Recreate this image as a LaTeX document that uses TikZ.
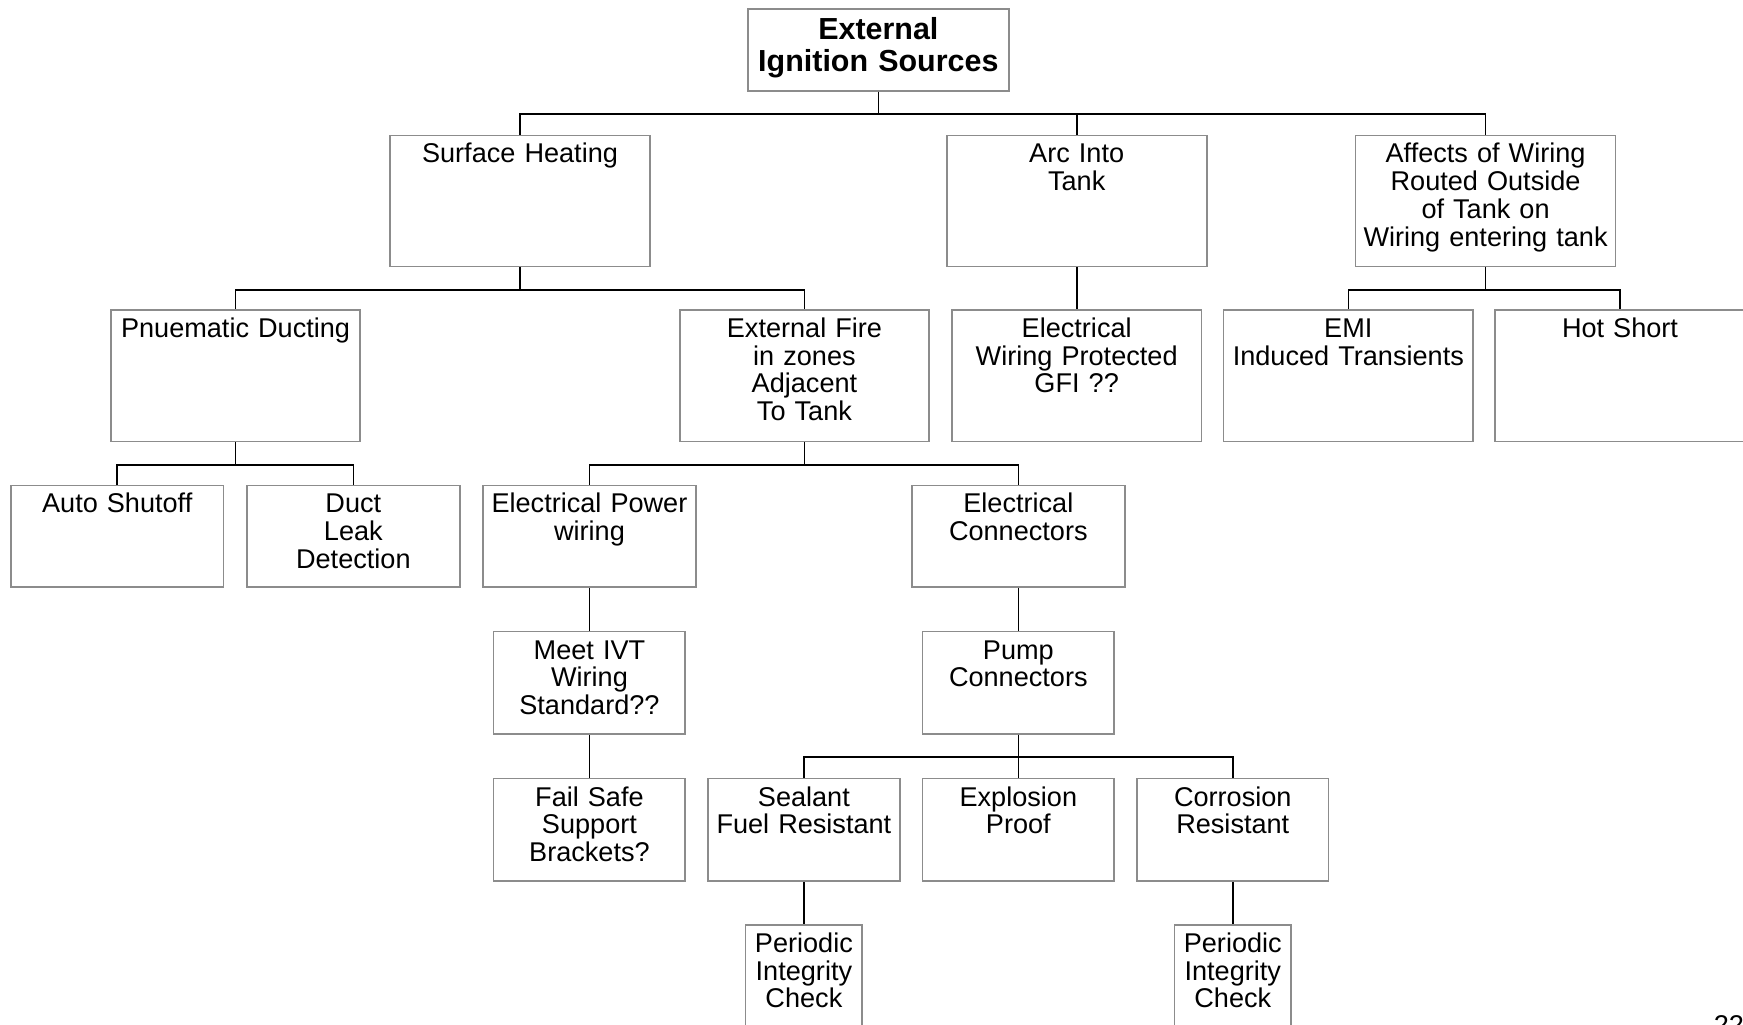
\documentclass[tikz,border=0pt]{standalone}
\usepackage{fontspec}
\setmainfont{Liberation Sans}
\usepackage{xcolor}
\definecolor{boxgray}{HTML}{8C8C8C}

\begin{document}
\begin{tikzpicture}[x=0.5pt, y=-0.5pt,
  box/.style={draw=boxgray, line width=0.75pt, anchor=north, inner sep=0pt,
    align=center, text height=12.4pt, font=\fontsize{12.2}{12.5}\selectfont},
  headbox/.style={box, text width=117.5pt, text height=13.8pt, text depth=22.95pt,
    font=\bfseries\fontsize{13.7}{14.1}\selectfont},
  bigbox/.style={box, text width=117pt, text depth=46.65pt},
  midbox/.style={box, text width=112.25pt, text depth=46.95pt},
  lowbox/.style={box, text width=95.75pt, text depth=33.4pt},
  subbox/.style={box, text width=86.25pt, text depth=33.7pt},
  checkbox/.style={box, text width=52.5pt, text depth=33.6pt},
  wire/.style={line width=0.75pt}]
  \useasboundingbox (0,0) rectangle (1568.7,921.6);

  \node[headbox] (top) at (790.5,7.6) {External\\Ignition Sources};

  \node[bigbox] (sh)  at (468,121.1)  {Surface Heating};
  \node[bigbox] (arc) at (969,121.1)  {Arc Into\\Tank};
  \node[bigbox] (aff) at (1337,121.1) {Affects of Wiring\\Routed Outside\\of Tank on\\Wiring entering tank};

  \node[midbox] (pd)  at (212,278)    {Pnuematic Ducting};
  \node[midbox] (ef)  at (724,278)    {External Fire\\in zones\\Adjacent\\To Tank};
  \node[midbox] (ew)  at (969,278)    {Electrical\\Wiring Protected\\GFI ??};
  \node[midbox] (emi) at (1213.5,278) {EMI\\Induced Transients};
  \node[midbox] (hs)  at (1458,278)   {Hot Short};

  \node[lowbox] (as)  at (105.5,436.1) {Auto Shutoff};
  \node[lowbox] (dld) at (318,436.1)   {Duct\\Leak\\Detection};
  \node[lowbox] (epw) at (530.5,436.1) {Electrical Power\\wiring};
  \node[lowbox] (ec)  at (916.5,436.1) {Electrical\\Connectors};

  \node[subbox] (ivt)  at (530.5,567.7) {Meet IVT\\Wiring\\Standard??};
  \node[subbox] (pump) at (916.5,567.7) {Pump\\Connectors};

  \node[subbox] (fs)   at (530.5,700)  {Fail Safe\\Support\\Brackets?};
  \node[subbox] (seal) at (723.5,700)  {Sealant\\Fuel Resistant};
  \node[subbox] (exp)  at (916.5,700)  {Explosion\\Proof};
  \node[subbox] (cor)  at (1109.5,700) {Corrosion\\Resistant};

  \node[checkbox] (pic1) at (723.5,831.6)  {Periodic\\Integrity\\Check};
  \node[checkbox] (pic2) at (1109.5,831.6) {Periodic\\Integrity\\Check};

  \node[anchor=north west, inner sep=0pt, font=\fontsize{12.2}{12.5}\selectfont] (page) at (1542,914) {22};

  \foreach \p/\c in {top/sh, top/arc, top/aff, sh/pd, sh/ef, arc/ew, aff/emi, aff/hs,
    pd/as, pd/dld, ef/epw, ef/ec, epw/ivt, ivt/fs, ec/pump,
    pump/seal, pump/exp, pump/cor, seal/pic1, cor/pic2}
    \draw[wire] (\p.south) -- ++(0,20) -| (\c.north);
\end{tikzpicture}
\end{document}
